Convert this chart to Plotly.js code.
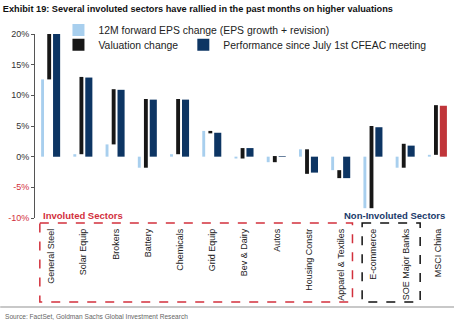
<!DOCTYPE html>
<html>
<head>
<meta charset="utf-8">
<script src="https://cdn.plot.ly/plotly-3.0.1.min.js"></script>
<style>html,body{margin:0;padding:0;background:#fff}#chart{width:474px;height:323px}</style>
</head>
<body>
<div id="chart"></div>
<script>
const categories = ["General Steel","Solar Equip","Brokers","Battery","Chemicals","Grid Equip","Bev & Dairy","Autos","Housing Constr","Apparel & Textiles","E-commerce","SOE Major Banks","MSCI China"];
const epsChange = [12.6, 0.4, 2.0, -1.8, 0.4, 4.2, -0.3, -0.9, 1.2, -2.2, -8.4, -1.8, 0.3];
const valuationChange = [9.0, 12.6, 9.0, 11.2, 9.0, -0.4, 1.7, 1.0, -4.0, -1.3, 13.4, 3.9, 8.1];
const performance = [21.5, 12.9, 10.9, 9.3, 9.3, 3.9, 1.4, 0.1, -2.6, -3.5, 4.8, 1.8, 8.3];
const yTickVals = [-10, -5, 0, 5, 10, 15, 20];
const yTickText = ["-10%", "-5%", "0%", "5%", "10%", "15%", "20%"];

const idx = categories.map((c, i) => i);
const perfColors = categories.map((c, i) => i === categories.length - 1 ? "#c0353a" : "#0d3563");
const tickText = yTickText.map((t, i) => yTickVals[i] < 0 ? '<span style="color:#d2303c">' + t + '</span>' : t);

const traces = [
  {type: "bar", name: "12M forward EPS change (EPS growth + revision)", x: idx, y: epsChange, base: 0,
   offset: -0.31, width: 0.09, marker: {color: "#a8cfee"}, legend: "legend"},
  {type: "bar", name: "Valuation change", x: idx, y: valuationChange, base: epsChange,
   offset: -0.12, width: 0.12, marker: {color: "#171717"}, legend: "legend2"},
  {type: "bar", name: "Performance since July 1st CFEAC meeting", x: idx, y: performance, base: 0,
   offset: 0.06, width: 0.22, marker: {color: perfColors}, legend: "legend3"}
];

const legendCommon = {xanchor: "left", yanchor: "top", orientation: "h", bgcolor: "rgba(0,0,0,0)",
                      font: {size: 10.4, color: "#222"}, itemwidth: 30};

const layout = {
  width: 474, height: 323,
  margin: {l: 35, r: 20, t: 34, b: 105},
  paper_bgcolor: "#fff", plot_bgcolor: "rgba(0,0,0,0)",
  font: {family: "Liberation Sans, Arial, sans-serif", size: 9, color: "#222"},
  barmode: "overlay",
  showlegend: true,
  xaxis: {
    range: [-0.5, 12.5], tickvals: idx, ticktext: categories, tickangle: -90,
    showline: false, showgrid: false, zeroline: false, ticks: "",
    ticklabelstandoff: 8, tickfont: {size: 9, color: "#222"}
  },
  xaxis2: {
    overlaying: "x", matches: "x", anchor: "free", position: 1/3, side: "bottom",
    range: [-0.5, 12.5], tickvals: idx, showticklabels: false, tickson: "boundaries",
    ticks: "outside", ticklen: 3, tickcolor: "#777", showline: true, linecolor: "#777", linewidth: 1,
    showgrid: false, zeroline: false
  },
  yaxis: {
    range: [-10, 20], tickvals: yTickVals, ticktext: tickText,
    showline: true, linecolor: "#555", linewidth: 1, ticks: "outside", ticklen: 3, tickcolor: "#555",
    showgrid: false, zeroline: false, tickfont: {size: 9, color: "#333"}
  },
  legend: Object.assign({x: 0.056, y: 1.1}, legendCommon),
  legend2: Object.assign({x: 0.056, y: 1.02}, legendCommon),
  legend3: Object.assign({x: 0.354, y: 1.02}, legendCommon),
  title: {text: "<b>Exhibit 19: Several involuted sectors have rallied in the past months on higher valuations</b>",
          x: 0.006, xanchor: "left", y: 0.972, yanchor: "middle",
          font: {family: "Liberation Sans, Arial, sans-serif", size: 9.2, color: "#111"}},
  shapes: [
    {type: "rect", xref: "x", yref: "paper", x0: -0.35, x1: 9.35, y0: -0.027, y1: -0.457,
     line: {color: "#d2303c", width: 1.5, dash: "dash"}},
    {type: "rect", xref: "x", yref: "paper", x0: 9.65, x1: 11.45, y0: -0.027, y1: -0.457,
     line: {color: "#111", width: 1.5, dash: "dash"}},
    {type: "line", xref: "paper", yref: "paper", x0: -0.083, x1: 1.0, y0: -0.484, y1: -0.484,
     line: {color: "#c8c8c8", width: 2}}
  ],
  annotations: [
    {text: "<b>Involuted Sectors</b>", xref: "x", yref: "paper", x: -0.3, y: 0.016, xanchor: "left", yanchor: "middle",
     showarrow: false, font: {size: 9.5, color: "#d2303c"}},
    {text: "<b>Non-Involuted Sectors</b>", xref: "x", yref: "paper", x: 10.65, y: 0.016, xanchor: "center", yanchor: "middle",
     showarrow: false, font: {size: 9.5, color: "#1a3a6a"}},
    {text: "Source: FactSet, Goldman Sachs Global Investment Research", xref: "paper", yref: "paper",
     x: -0.076, y: -0.535, xanchor: "left", yanchor: "middle", showarrow: false,
     font: {family: "Liberation Sans, Arial, sans-serif", size: 6.6, color: "#666"}}
  ]
};

Plotly.newPlot("chart", traces, layout, {displayModeBar: false, staticPlot: true});
</script>
</body>
</html>
